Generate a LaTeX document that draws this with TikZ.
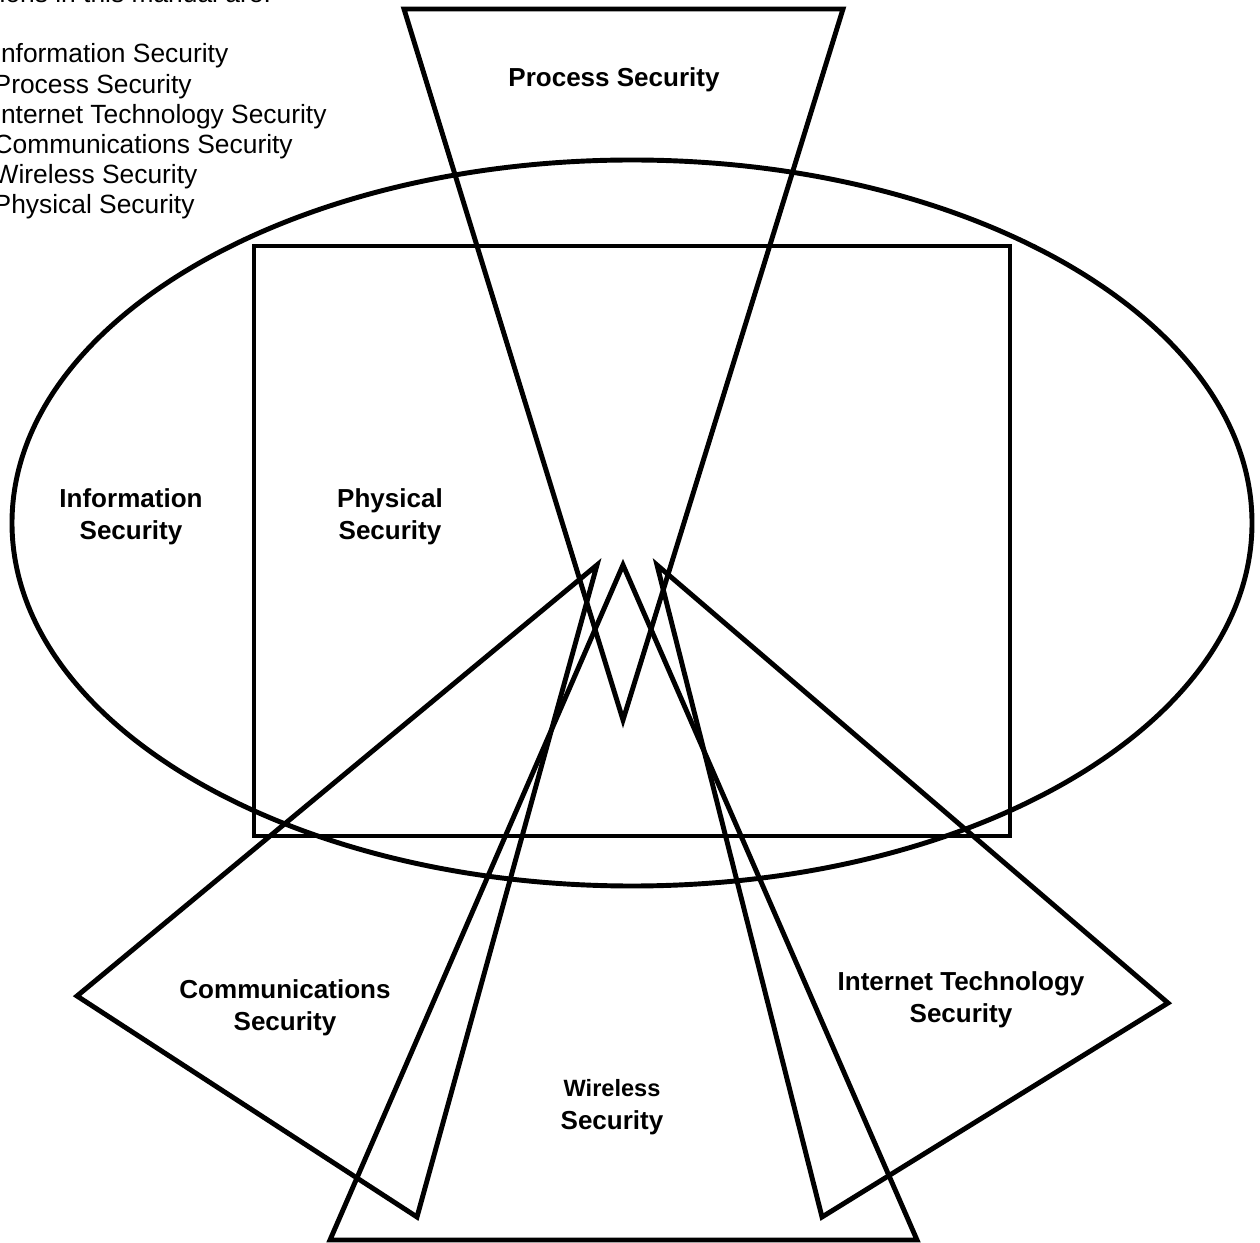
\documentclass[tikz,border=0pt]{standalone}
\usepackage{fontspec}
\setmainfont{Liberation Sans}
\usetikzlibrary{positioning}

\begin{document}
\begin{tikzpicture}[
    x=0.01cm, y=-0.01cm,
    zone/.style={draw=black, line width=1.4pt, line join=miter},
    lbl/.style={font=\fontsize{7.4}{9.2}\selectfont\bfseries, align=center, inner sep=0pt},
    lst/.style={font=\fontsize{7.5}{8.6}\selectfont, align=left, inner sep=0pt, anchor=base west}
]
\useasboundingbox (0,0) rectangle (1260,1243);
\clip (0,0) rectangle (1260,1243);

% list of sections, cut off at the page edge
\node[lst] (intro) at (-1,3) {ions in this manual are:};
\node[lst] (sections) at (-7,214) {Information Security\\
    Process Security\\
    Internet Technology Security\\
    Communications Security\\
    Wireless Security\\
    Physical Security};

% the overlapping areas
\draw[zone] (632,523) ellipse [x radius=620, y radius=363];
\draw[zone] (254,246) rectangle (1010,836);
\draw[zone] (404,9) -- (843,9) -- (623,720) -- cycle;
\draw[zone] (623,565) -- (917,1240) -- (330,1240) -- cycle;
\draw[zone] (597,565) -- (77,996) -- (417,1217) -- cycle;
\draw[zone] (657,565) -- (1168,1003) -- (822,1217) -- cycle;

% labels
\node[lbl] (process) at (614,80) {Process Security};
\node[lbl] (info) at (131,517) {Information\\Security};
\node[lbl] (physical) at (390,517) {Physical\\Security};
\node[lbl] (comms) at (285,1008) {Communications\\Security};
\node[lbl] (internet) at (961,1000) {Internet Technology\\Security};
\node[lbl] (wireless) at (612,1107) {{\fontsize{6.7}{9}\selectfont Wireless}\\Security};

\end{tikzpicture}
\end{document}
